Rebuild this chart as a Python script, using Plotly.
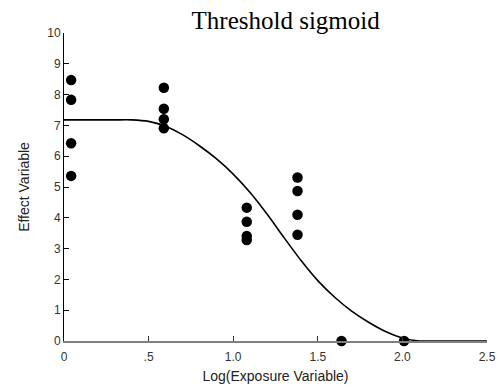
import plotly.graph_objects as go

obs_x = [0.042, 0.042, 0.042, 0.042,
         0.59, 0.59, 0.59, 0.59,
         1.08, 1.08, 1.08, 1.08,
         1.38, 1.38, 1.38, 1.38,
         1.64, 2.01]
obs_y = [8.47, 7.83, 6.42, 5.36,
         8.22, 7.54, 7.20, 6.91,
         4.33, 3.87, 3.41, 3.28,
         5.31, 4.87, 4.10, 3.45,
         0.0, 0.0]

# Fitted threshold sigmoid curve
curve_x = [0.0, 0.1, 0.2, 0.3, 0.4, 0.5, 0.6, 0.7, 0.8, 0.9, 1.0, 1.1, 1.2,
           1.3, 1.4, 1.5, 1.6, 1.7, 1.8, 1.9, 2.0, 2.1, 2.2, 2.3, 2.4, 2.5]
curve_y = [7.18, 7.18, 7.18, 7.18, 7.18, 7.13, 6.97, 6.70, 6.34, 5.92, 5.42, 4.82, 4.12,
           3.36, 2.62, 1.96, 1.42, 0.97, 0.61, 0.31, 0.10, 0.0, 0.0, 0.0, 0.0, 0.0]

x_tickvals = [0, 0.5, 1.0, 1.5, 2.0, 2.5]
x_ticktext = ["0", ".5", "1.0", "1.5", "2.0", "2.5"]
y_tickvals = [0, 1, 2, 3, 4, 5, 6, 7, 8, 9, 10]

fig = go.Figure()
fig.add_trace(go.Scatter(x=curve_x, y=curve_y, mode="lines",
                         line=dict(color="black", width=1.6, shape="spline", smoothing=0.6),
                         hoverinfo="skip", cliponaxis=False))
fig.add_trace(go.Scatter(x=obs_x, y=obs_y, mode="markers",
                         marker=dict(color="black", size=10.5), cliponaxis=False))

fig.update_layout(
    width=500, height=388,
    margin=dict(l=63.5, r=13, t=33.3, b=47.3),
    paper_bgcolor="white", plot_bgcolor="white",
    showlegend=False,
    font=dict(family="Liberation Sans, Arial, sans-serif", color="#333333"),
    title=dict(text="Threshold sigmoid", x=0.524, xref="paper", xanchor="center",
               y=1 - 20 / 388, yref="container", yanchor="middle",
               font=dict(family="Liberation Serif, Times New Roman, serif", size=25, color="black")),
)
fig.update_xaxes(range=[0, 2.5], tickvals=x_tickvals, ticktext=x_ticktext, automargin=False,
                 showgrid=False, zeroline=False, showline=True, linecolor="#808080", linewidth=2,
                 ticks="inside", ticklen=5, tickcolor="#333333", tickwidth=1,
                 ticklabelstandoff=4,
                 tickfont=dict(size=12, color="#333333"),
                 title=dict(text="Log(Exposure Variable)", font=dict(size=14, color="#222222"), standoff=8))
fig.update_yaxes(range=[0, 10], tickvals=y_tickvals, automargin=False,
                 showgrid=False, zeroline=False, showline=True, linecolor="black", linewidth=1,
                 ticks="inside", ticklen=5, tickcolor="black", tickwidth=1,
                 tickfont=dict(size=12, color="#333333"),
                 title=dict(text="Effect Variable", font=dict(size=14, color="#222222"), standoff=14))

fig.write_html("out.html")
